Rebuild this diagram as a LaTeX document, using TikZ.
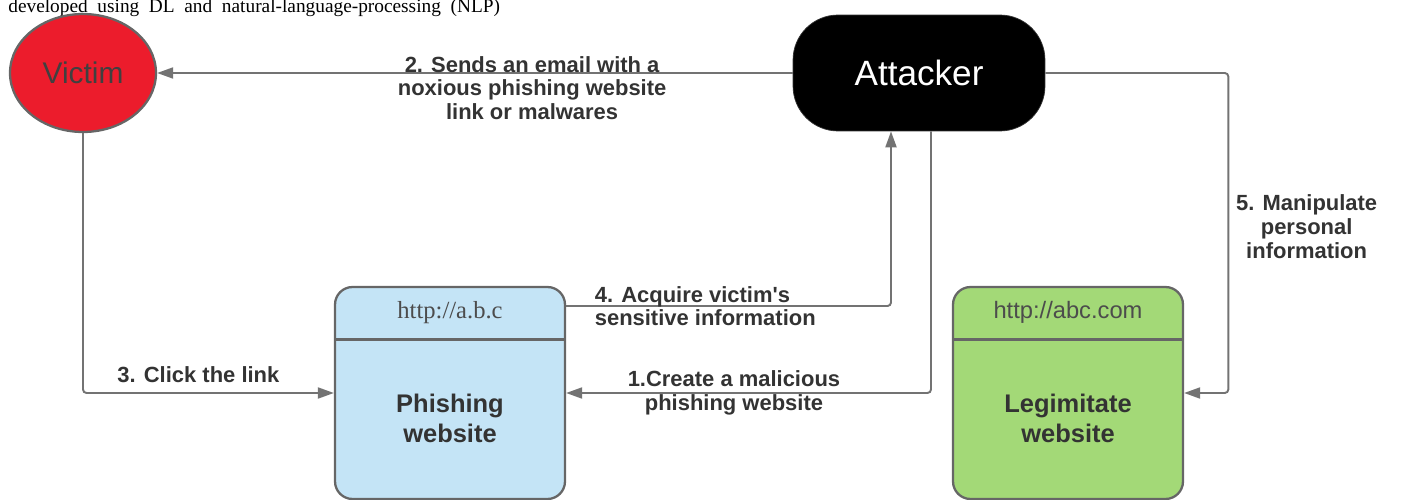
\documentclass[tikz,border=0pt]{standalone}
\usepackage{fontspec}
\setmainfont{Liberation Serif}
\setsansfont{Liberation Sans}
\usepackage{xcolor}
\usetikzlibrary{arrows.meta,positioning,shapes.geometric}
\definecolor{victimred}{HTML}{EC1C2C}
\definecolor{phishblue}{HTML}{C4E4F6}
\definecolor{legitgreen}{HTML}{A3D977}
\begin{document}
\begin{tikzpicture}[x=0.02cm, y=-0.02cm, font=\sffamily,
  lbl/.style={font=\sffamily\bfseries\fontsize{12.5}{13.5}\selectfont,
              text=black!80, align=center, inner sep=1pt},
  site/.style={draw=black!60, line width=1.3pt, rounded corners=0.35cm,
               minimum width=4.6cm, minimum height=4.24cm},
  urlbar/.style={minimum width=4.6cm, minimum height=1.06cm, inner sep=0pt,
                 text=black!70},
  sitename/.style={font=\sffamily\bfseries\fontsize{14.5}{17}\selectfont,
                   text=black!80, align=center},
  arr/.style={-{Triangle[length=3.2mm,width=2.2mm]}, draw=black!55,
              line width=1.1pt, rounded corners=2pt}]
\clip (0,0) rectangle (1414,500);
% --- caption line above the figure ---
\node[anchor=base west, inner sep=0pt, font=\rmfamily\fontsize{11}{11}\selectfont]
  (caption) at (8,13) {developed\ \ using\ \ DL\ \ and\ \ natural-language-processing\ \ (NLP)};
% --- actors ---
\node[ellipse, draw=black!60, line width=1.3pt, fill=victimred,
      minimum width=2.92cm, minimum height=2.36cm, text=black!75,
      font=\sffamily\fontsize{17}{17}\selectfont] (victim) at (83,73) {Victim};
\node[draw=black!80, fill=black, rounded corners=0.9cm, minimum width=5.04cm,
      minimum height=2.32cm, text=white,
      font=\sffamily\fontsize{20}{20}\selectfont] (attacker) at (919,73) {Attacker};
% --- websites ---
\node[site, fill=phishblue] (phish) at (450,393) {};
\node[urlbar, below=0pt of phish.north, font=\rmfamily\fontsize{14}{14}\selectfont]
  (phishurl) {http://a.b.c};
\draw[draw=black!60, line width=1.3pt] (phishurl.south west) -- (phishurl.south east);
\node[sitename] (phishname) at (450,418) {Phishing\\website};
\node[site, fill=legitgreen] (legit) at (1068,393) {};
\node[urlbar, below=0pt of legit.north, font=\sffamily\fontsize{13.5}{13.5}\selectfont]
  (legiturl) {http://abc.com};
\draw[draw=black!60, line width=1.3pt] (legiturl.south west) -- (legiturl.south east);
\node[sitename] (legitname) at (1068,418) {Legimitate\\website};
% --- steps ---
\draw[arr] (attacker) -- node[lbl, pos=0.41, yshift=-0.3cm] (lsend)
  {2. Sends an email with a\\noxious phishing website\\link or malwares} (victim);
\draw[arr] (victim) |- node[lbl, pos=0.73, above=0.15cm] (lclick)
  {3. Click the link} (phish);
\draw[arr] ([xshift=0.24cm]attacker.south) |- node[lbl, pos=0.77] (lcreate)
  {1.Create a malicious\\phishing website} (phish);
\draw[arr] ([yshift=1.74cm]phish.east) -| node[lbl, pos=0.04, anchor=west, align=left]
  (lacquire) {4. Acquire victim\textquotesingle s\\sensitive information}
  ([xshift=-0.56cm]attacker.south);
\draw[arr] (attacker.east) -- ++(183,0) |- node[lbl, pos=0.24, right=0.1cm] (lmanip)
  {5. Manipulate\\personal\\information} (legit.east);
\end{tikzpicture}
\end{document}
